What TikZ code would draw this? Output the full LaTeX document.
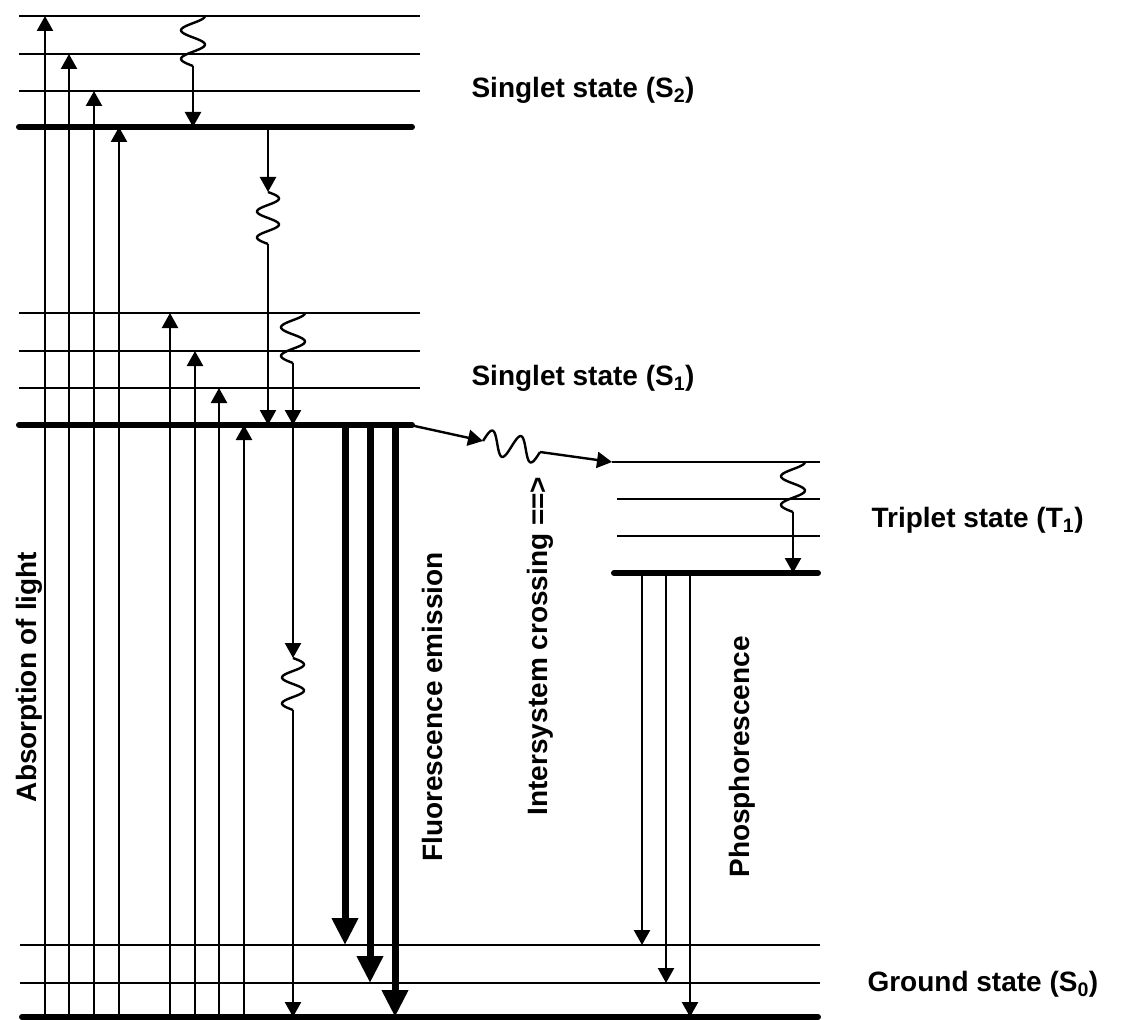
\documentclass[tikz,border=0pt]{standalone}
\usepackage{fontspec}
\setmainfont{Liberation Sans}
\usetikzlibrary{positioning, calc, arrows.meta}

\begin{document}
\begin{tikzpicture}[x=1pt, y=-1pt, font=\fontsize{28}{34}\selectfont\bfseries,
  >={Triangle[length=15pt, width=16pt]},
  vib/.style={line width=2.4pt},
  vibzero/.style={line width=6pt, line cap=round},
  trans/.style={->, line width=2.4pt},
  emit/.style={-{Triangle[length=27pt, width=25pt]}, line width=7pt},
  wiggle/.pic={\draw[line width=2.4pt] plot[domain=0:1, samples=40, smooth] ({12*cos(630*\x)}, {50*\x});},
  wave/.pic={\draw[line width=2.4pt] plot[domain=0:1, samples=50, smooth] ({11*sin(720*\x)}, {52*\x});}]
  \useasboundingbox (0,0) rectangle (1123,1019);

  % heights of the vibrational levels
  \foreach \n/\y in {S2v3/16, S2v2/54, S2v1/91, S2v0/127,
                     S1v3/313, S1v2/351, S1v1/388, S1v0/425,
                     T1v3/462, T1v2/499, T1v1/536, T1v0/573,
                     S0v2/945, S0v1/983, S0v0/1017}
    \coordinate (\n) at (0,\y);

  % singlet states S2 and S1
  \foreach \n in {S2v3, S2v2, S2v1, S1v3, S1v2, S1v1}
    \draw[vib] (19,0 |- \n) -- (420,0 |- \n);
  \foreach \n in {S2v0, S1v0}
    \draw[vibzero] (19,0 |- \n) -- (412,0 |- \n);
  % triplet state
  \foreach \n in {T1v2, T1v1}
    \draw[vib] (617,0 |- \n) -- (820,0 |- \n);
  \draw[vib] (612,0 |- T1v3) -- (820,0 |- T1v3);
  \draw[vibzero] (614,0 |- T1v0) -- (818,0 |- T1v0);
  % ground state
  \foreach \n in {S0v2, S0v1}
    \draw[vib] (20,0 |- \n) -- (820,0 |- \n);
  \draw[vibzero] (22,0 |- S0v0) -- (818,0 |- S0v0);

  % absorption of light
  \foreach \x/\n in {45/S2v3, 69/S2v2, 94/S2v1, 119/S2v0,
                     170/S1v3, 195/S1v2, 219/S1v1, 244/S1v0}
    \draw[trans] (\x,0 |- S0v0) -- (\x,0 |- \n);

  % fluorescence and phosphorescence
  \foreach \x/\n in {345/S0v2, 370/S0v1, 395/S0v0}
    \draw[emit] (\x,0 |- S1v0) -- (\x,0 |- \n);
  \foreach \x/\n in {642/S0v2, 666/S0v1, 690/S0v0}
    \draw[trans] (\x,0 |- T1v0) -- (\x,0 |- \n);

  % vibrational relaxation inside each state
  \pic at (193,0 |- S2v3) {wiggle};
  \coordinate (rS2) at (193,66);
  \draw[trans] (rS2) -- (193,0 |- S2v0);
  \pic at (293,0 |- S1v3) {wiggle};
  \coordinate (rS1) at (293,363);
  \draw[trans] (rS1) -- (293,0 |- S1v0);
  \pic at (793,0 |- T1v3) {wiggle};
  \coordinate (rT1) at (793,512);
  \draw[trans] (rT1) -- (793,0 |- T1v0);

  % internal conversion
  \coordinate (icA) at (268,192);
  \coordinate (icB) at (268,244);
  \draw[trans] (268,0 |- S2v0) -- (icA);
  \pic at (icA) {wave};
  \draw[trans] (icB) -- (268,0 |- S1v0);
  \coordinate (icC) at (293,658);
  \coordinate (icD) at (293,710);
  \draw[trans] (293,0 |- S1v0) -- (icC);
  \pic at (icC) {wave};
  \draw[trans] (icD) -- (293,0 |- S0v0);

  % intersystem crossing
  \coordinate (iscA) at (483,441);
  \coordinate (iscB) at (540,452);
  \draw[trans] (410,0 |- S1v0) -- (iscA);
  \draw[line width=2.4pt] plot[domain=0:1, samples=60, smooth]
    ({483+57*\x+2.3*sin(720*\x)}, {441+11*\x-11.8*sin(720*\x)});
  \draw[trans] (iscB) -- (612,0 |- T1v3);

  % labels
  \node[anchor=west] (lblS2) at (468,90) {Singlet state (S\textsubscript{2})};
  \node[anchor=west] (lblS1) at (468,378) {Singlet state (S\textsubscript{1})};
  \node[anchor=west] (lblT1) at (868,520) {Triplet state (T\textsubscript{1})};
  \node[anchor=west] (lblS0) at (864,984) {Ground state (S\textsubscript{0})};
  \node[rotate=90] (lblAbs) at (29,677) {Absorption of light};
  \node[rotate=90] (lblFl) at (432,707) {Fluorescence emission};
  \node[rotate=90] (lblIsc) at (540,646) {Intersystem crossing ==>};
  \node[rotate=90] (lblPh) at (742,757) {Phosphorescence};
\end{tikzpicture}
\end{document}
